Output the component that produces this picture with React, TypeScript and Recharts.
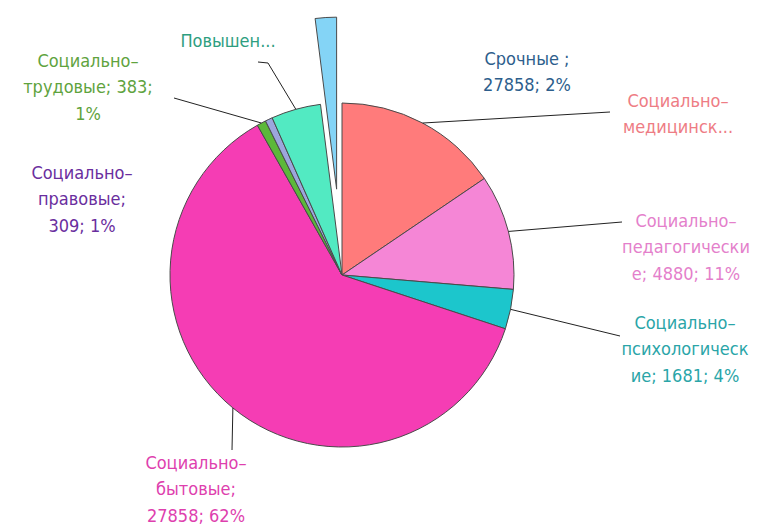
import { PieChart, Pie, Cell } from 'recharts';

// slices, clockwise from 12 o'clock
const categories = [
  'Социально-медицинские',
  'Социально-педагогические',
  'Социально-психологические',
  'Социально-бытовые',
  'Социально-трудовые',
  'Социально-правовые',
  'Повышение',
  'Срочные',
];
const values = [7000, 4880, 1681, 27858, 383, 309, 2100, 900];

// label texts as printed on the chart
const labelTexts = [
  ['Социально–', 'медицинск...'],
  ['Социально–', 'педагогически', 'е; 4880; 11%'],
  ['Социально–', 'психологическ', 'ие; 1681; 4%'],
  ['Социально–', 'бытовые;', '27858; 62%'],
  ['Социально–', 'трудовые; 383;', '1%'],
  ['Социально–', 'правовые;', '309; 1%'],
  ['Повышен...'],
  ['Срочные ;', '27858; 2%'],
];

const sliceColors = ['#FF7B7B', '#F586D6', '#1CC6CC', '#F53DB4', '#5CB83A', '#9CA6DC', '#52EAC2', '#84D4F6'];
const labelColors = ['#EE7C84', '#E47FCB', '#2AA5A8', '#DE3FAE', '#5FA33E', '#6A2E9E', '#2E9E80', '#2D5E8C'];

const exploded = 7;

const data = categories.map((name, i) => ({ name, value: values[i] }));

// label placement (svg coords)
const W = 753;
const H = 516;
const CX = 334;
const CY = 267;
const R = 172;
const LH = 26.5;

const labelLayout: { x: number; y: number; end: number[][] | null }[] = [
  { x: 670, y: 92, end: [[602, 104]] },
  { x: 678, y: 212, end: [[614, 214]] },
  { x: 677, y: 314, end: [[612, 328]] },
  { x: 188, y: 454, end: [[224, 442]] },
  { x: 80, y: 52, end: [[166, 90]] },
  { x: 74, y: 164, end: null },
  { x: 220, y: 32, end: [[260, 55], [250, 54]] },
  { x: 519, y: 50, end: null },
];

const RAD = Math.PI / 180;

const renderLabel = (props: any) => {
  const { cx, cy, midAngle, outerRadius, index } = props;
  const lay = labelLayout[index];
  const r = index === exploded ? outerRadius + 84 : outerRadius;
  const sx = cx + r * Math.cos(-midAngle * RAD);
  const sy = cy + r * Math.sin(-midAngle * RAD);
  const pts = lay.end ? [[sx, sy], ...lay.end].map((p) => p.join(',')).join(' ') : null;
  return (
    <g>
      {pts && <polyline points={pts} fill="none" stroke="#222" strokeWidth={1} />}
      <text
        x={lay.x}
        y={lay.y}
        fill={labelColors[index]}
        textAnchor="middle"
        fontFamily="'DejaVu Sans Condensed', 'DejaVu Sans', sans-serif"
        fontStretch="condensed"
        fontSize={18}
      >
        {labelTexts[index].map((t, k) => (
          <tspan key={k} x={lay.x} y={lay.y + k * LH} dominantBaseline="central">
            {t}
          </tspan>
        ))}
      </text>
    </g>
  );
};

// offset for the pulled-out slice, from its middle angle
const total = values.reduce((a, b) => a + b, 0);
const before = values.slice(0, exploded).reduce((a, b) => a + b, 0);
const midA = 90 - ((before + values[exploded] / 2) / total) * 360;
const OFF = 86;
const ex = CX + OFF * Math.cos(midA * RAD);
const ey = CY - OFF * Math.sin(midA * RAD);

export default function App() {
  return (
    <PieChart
      width={W}
      height={H}
      margin={{ top: 0, right: 0, bottom: 0, left: 0 }}
      style={{ overflow: 'visible' }}
    >
      <Pie
        data={data}
        dataKey="value"
        nameKey="name"
        cx={CX}
        cy={CY}
        outerRadius={R}
        startAngle={90}
        endAngle={-270}
        stroke="#4a4a4a"
        strokeWidth={1}
        label={renderLabel}
        labelLine={false}
        isAnimationActive={false}
      >
        {data.map((d, i) => (
          <Cell
            key={d.name}
            fill={i === exploded ? 'none' : sliceColors[i]}
            stroke={i === exploded ? 'none' : '#4a4a4a'}
          />
        ))}
      </Pie>
      <Pie
        data={data}
        dataKey="value"
        nameKey="name"
        cx={ex}
        cy={ey}
        outerRadius={R}
        startAngle={90}
        endAngle={-270}
        strokeWidth={1}
        isAnimationActive={false}
      >
        {data.map((d, i) => (
          <Cell
            key={d.name}
            fill={i === exploded ? sliceColors[i] : 'none'}
            stroke={i === exploded ? '#4a4a4a' : 'none'}
          />
        ))}
      </Pie>
    </PieChart>
  );
}
